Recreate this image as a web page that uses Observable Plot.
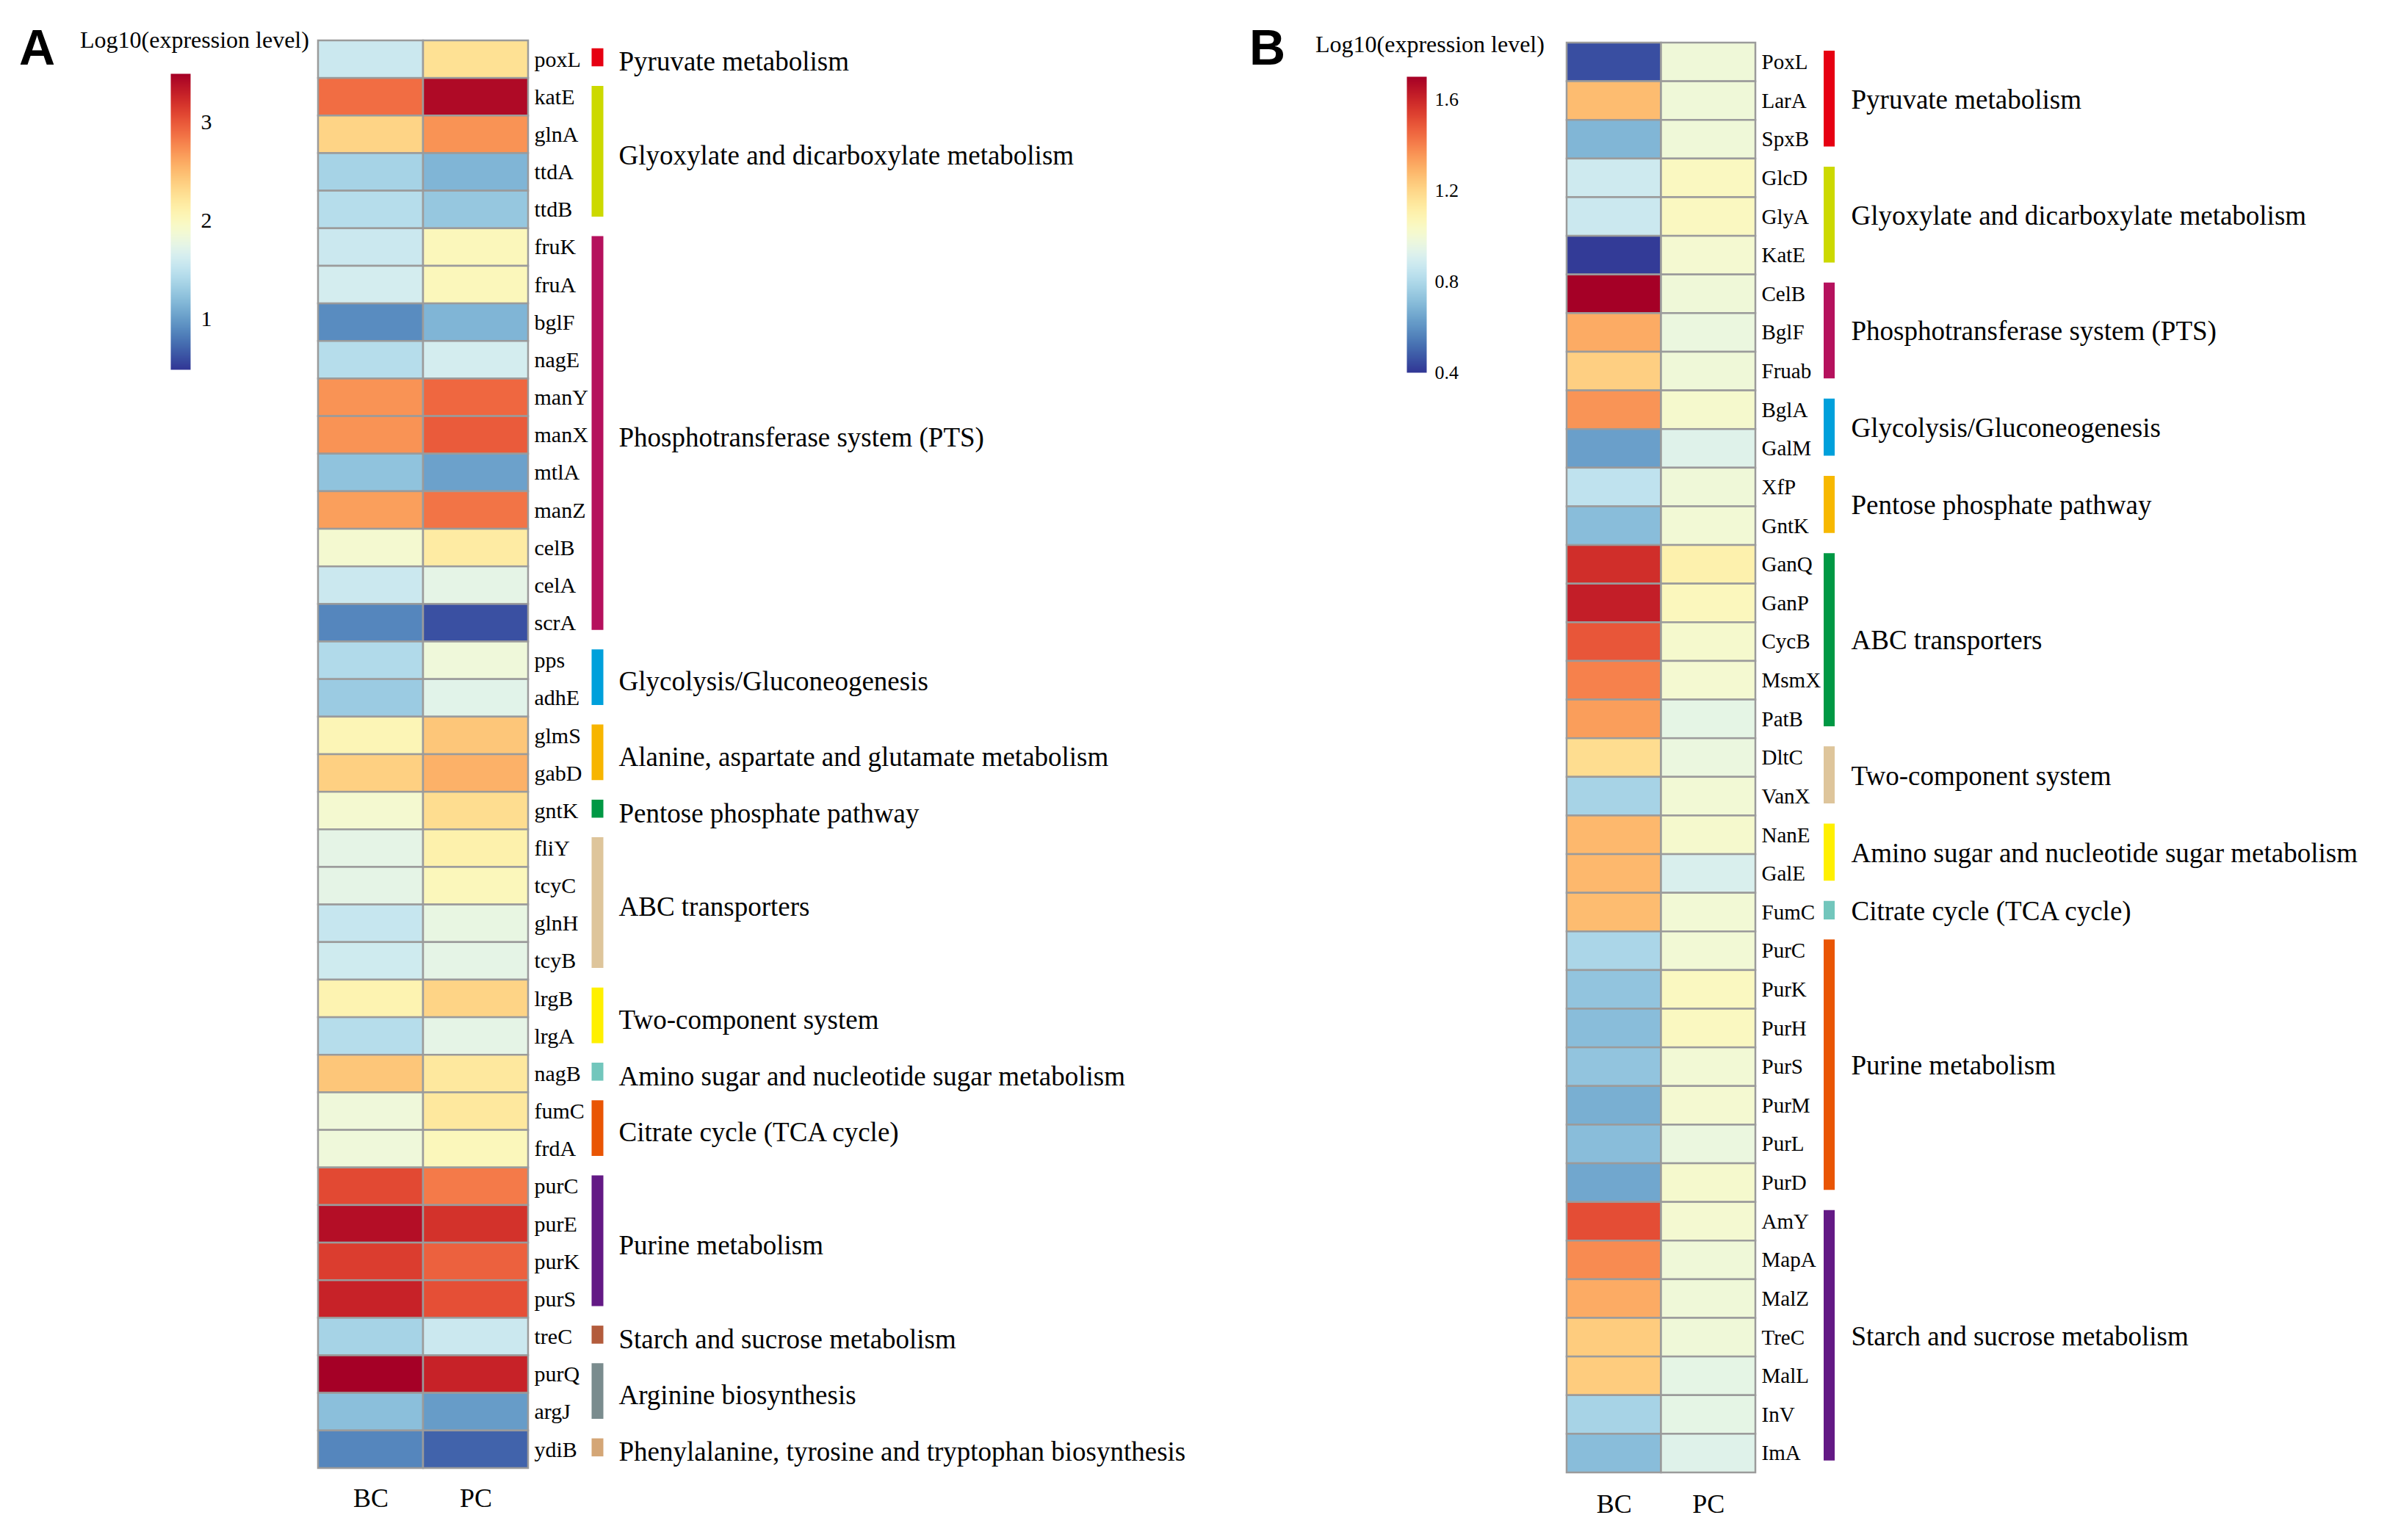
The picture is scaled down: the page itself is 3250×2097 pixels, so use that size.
<!DOCTYPE html>
<html>
<head>
<meta charset="utf-8">
<script src="https://cdn.jsdelivr.net/npm/d3@7"></script>
<script src="https://cdn.jsdelivr.net/npm/@observablehq/plot@0.6"></script>
<style>
  html, body { margin: 0; padding: 0; background: #fff; }
  #root { position: relative; width: 3250px; height: 2097px; background: #fff; overflow: hidden; }
  #root svg { position: absolute; left: 0; top: 0; }
  .txt { position: absolute; white-space: nowrap; color: #000; }
  .letter { font-family: "Liberation Sans", Arial, sans-serif; font-weight: bold; font-size: 68px; line-height: 68px; }
  .ltitle { font-family: "Liberation Serif", "Times New Roman", serif; font-size: 32px; line-height: 32px; }
</style>
</head>
<body>
<div id="root">
  <div class="txt letter" style="left:26px; top:30px;">A</div>
  <div class="txt letter" style="left:1701px; top:30px;">B</div>
  <div class="txt ltitle" style="left:109px; top:38px;">Log10(expression level)</div>
  <div class="txt ltitle" style="left:1791px; top:44px;">Log10(expression level)</div>
</div>
<script>
// ---------------- Data: panel A ----------------
const samples = ["BC", "PC"];

const genesA = ["poxL","katE","glnA","ttdA","ttdB","fruK","fruA","bglF","nagE","manY","manX","mtlA","manZ","celB","celA","scrA","pps","adhE","glmS","gabD","gntK","fliY","tcyC","glnH","tcyB","lrgB","lrgA","nagB","fumC","frdA","purC","purE","purK","purS","treC","purQ","argJ","ydiB"];
const bcA = [1.57,2.89,2.35,1.36,1.45,1.57,1.63,0.91,1.45,2.71,2.71,1.24,2.65,1.90,1.57,0.88,1.42,1.30,2.05,2.38,1.90,1.75,1.75,1.54,1.60,2.08,1.45,2.44,1.84,1.84,3.07,3.40,3.13,3.28,1.36,3.49,1.21,0.88];
const pcA = [2.26,3.43,2.71,1.15,1.27,2.02,2.02,1.15,1.63,2.92,2.98,1.03,2.86,2.17,1.75,0.61,1.84,1.72,2.44,2.56,2.29,2.11,2.02,1.78,1.75,2.35,1.75,2.20,2.20,2.02,2.83,3.19,2.95,3.04,1.57,3.28,1.00,0.70];
const pathwayNamesA = ["Pyruvate metabolism","Glyoxylate and dicarboxylate metabolism","Phosphotransferase system (PTS)","Glycolysis/Gluconeogenesis","Alanine, aspartate and glutamate metabolism","Pentose phosphate pathway","ABC transporters","Two-component system","Amino sugar and nucleotide sugar metabolism","Citrate cycle (TCA cycle)","Purine metabolism","Starch and sucrose metabolism","Arginine biosynthesis","Phenylalanine, tyrosine and tryptophan biosynthesis"];
const pathwaySizesA = [1,4,11,2,2,1,4,2,1,2,4,1,2,1];
const pathwayColorsA = ["#e60012","#ccd900","#b5115d","#00a0db","#f7b500","#009844","#dec59b","#fff000","#72c6bc","#e95504","#631985","#b35c3c","#7a8c8e","#d4a676"];
const legendDomainA = [0.485, 3.49];
const legendTicksA = [1, 2, 3];

// ---------------- Data: panel B ----------------
const genesB = ["PoxL","LarA","SpxB","GlcD","GlyA","KatE","CelB","BglF","Fruab","BglA","GalM","XfP","GntK","GanQ","GanP","CycB","MsmX","PatB","DltC","VanX","NanE","GalE","FumC","PurC","PurK","PurH","PurS","PurM","PurL","PurD","AmY","MapA","MalZ","TreC","MalL","InV","ImA"];
const bcB = [0.45,1.27,0.69,0.88,0.87,0.41,1.70,1.31,1.22,1.36,0.63,0.84,0.71,1.58,1.62,1.49,1.40,1.34,1.18,0.78,1.28,1.28,1.27,0.79,0.73,0.71,0.73,0.67,0.71,0.65,1.51,1.38,1.31,1.23,1.23,0.78,0.71];
const pcB = [0.99,0.99,0.99,1.05,1.05,1.01,0.99,0.97,0.99,1.02,0.93,0.99,1.00,1.10,1.06,1.02,1.01,0.95,0.97,1.00,1.02,0.91,1.00,1.00,1.05,1.05,1.00,1.01,0.97,1.02,1.01,0.99,0.99,0.99,0.95,0.95,0.93];
const pathwayNamesB = ["Pyruvate metabolism","Glyoxylate and dicarboxylate metabolism","Phosphotransferase system (PTS)","Glycolysis/Gluconeogenesis","Pentose phosphate pathway","ABC transporters","Two-component system","Amino sugar and nucleotide sugar metabolism","Citrate cycle (TCA cycle)","Purine metabolism","Starch and sucrose metabolism"];
const pathwaySizesB = [3,3,3,2,2,5,2,2,1,7,7];
const pathwayColorsB = ["#e60012","#ccd900","#b5115d","#00a0db","#f7b800","#009844","#dec59b","#fff000","#72c6bc","#e95504","#631985"];
const legendDomainB = [0.4, 1.70];
const legendTicksB = [0.4, 0.8, 1.2, 1.6];

// ---------------- Drawing ----------------
const W = 3250, H = 2097;
const serif = '"Liberation Serif", "Times New Roman", serif';
const interp = t => d3.interpolateRdYlBu(1 - t);
const root = document.getElementById("root");

function heatmap(cfg) {
  const n = cfg.genes.length;
  const cells = cfg.genes.flatMap((g, i) => [
    {row: i, col: 0, value: cfg.bc[i]},
    {row: i, col: 1, value: cfg.pc[i]}
  ]);
  let start = 0;
  const groups = cfg.names.map((name, k) => {
    const g = {name, color: cfg.colors[k], start, end: start + cfg.sizes[k]};
    start += cfg.sizes[k];
    return g;
  });
  const barMarks = groups.map(g => Plot.ruleX([g], {
    x: () => 2, y1: d => d.start + 0.21, y2: d => d.end - 0.31,
    stroke: g.color, strokeWidth: cfg.barW, dx: cfg.barDx
  }));
  return Plot.plot({
    width: W, height: H,
    marginLeft: cfg.left, marginRight: W - cfg.right,
    marginTop: cfg.top, marginBottom: H - cfg.bottom,
    style: {background: "transparent", fontFamily: serif},
    x: {domain: [0, 2], axis: null},
    y: {domain: [0, n], reverse: true, axis: null},
    color: {type: "linear", domain: cfg.domain, interpolate: interp},
    marks: [
      Plot.rect(cells, {x1: "col", x2: d => d.col + 1, y1: "row", y2: d => d.row + 1,
        fill: "value", stroke: "#9b9b9b", strokeWidth: 2.5}),
      Plot.text(cfg.genes, {x: () => 2, y: (d, i) => i + 0.5, text: d => d, textAnchor: "start",
        dx: cfg.geneDx, fontSize: cfg.geneSize, fill: "#000", fontFamily: serif}),
      ...barMarks,
      Plot.text(groups, {x: () => 2, y: d => (d.start + 0.21 + d.end - 0.31) / 2, text: "name",
        textAnchor: "start", dx: cfg.labelDx, dy: cfg.labelDy, fontSize: 37, fill: "#000", fontFamily: serif}),
      Plot.text(samples, {x: (d, i) => i + 0.5, y: () => n, dy: cfg.sampleDy, text: d => d,
        fontSize: 36, fill: "#000", fontFamily: serif})
    ]
  });
}

function colorbar(cfg) {
  return Plot.plot({
    width: W, height: H,
    marginLeft: cfg.left, marginRight: W - cfg.right,
    marginTop: cfg.top, marginBottom: H - cfg.bottom,
    style: {background: "transparent", fontFamily: serif},
    x: {domain: [0, 1], axis: null},
    y: {domain: cfg.domain, axis: null},
    color: {type: "linear", domain: cfg.domain, interpolate: interp},
    marks: [
      Plot.raster({x1: 0, x2: 1, y1: cfg.domain[0], y2: cfg.domain[1],
        fill: (x, y) => y, width: 1, height: 400, imageRendering: "auto"}),
      Plot.text(cfg.ticks, {x: () => 1, y: d => d, text: d => String(d), textAnchor: "start",
        dx: cfg.tickDx, fontSize: cfg.tickSize, fill: "#000", fontFamily: serif})
    ]
  });
}

root.appendChild(colorbar({domain: legendDomainA, ticks: legendTicksA, left: 232, right: 259, top: 100, bottom: 503, tickDx: 14, tickSize: 30}));
root.appendChild(colorbar({domain: legendDomainB, ticks: legendTicksB, left: 1915, right: 1942, top: 104, bottom: 507, tickDx: 11, tickSize: 26}));

root.appendChild(heatmap({genes: genesA, bc: bcA, pc: pcA, names: pathwayNamesA, sizes: pathwaySizesA,
  colors: pathwayColorsA, domain: legendDomainA, left: 433, right: 719, top: 55, bottom: 1999,
  geneDx: 8, geneSize: 30, barDx: 94, barW: 16, labelDx: 123, labelDy: 6, sampleDy: 41}));
root.appendChild(heatmap({genes: genesB, bc: bcB, pc: pcB, names: pathwayNamesB, sizes: pathwaySizesB,
  colors: pathwayColorsB, domain: legendDomainB, left: 2133, right: 2390, top: 58, bottom: 2005,
  geneDx: 8, geneSize: 29, barDx: 100, barW: 15, labelDx: 130, labelDy: 1, sampleDy: 43}));
</script>
</body>
</html>
